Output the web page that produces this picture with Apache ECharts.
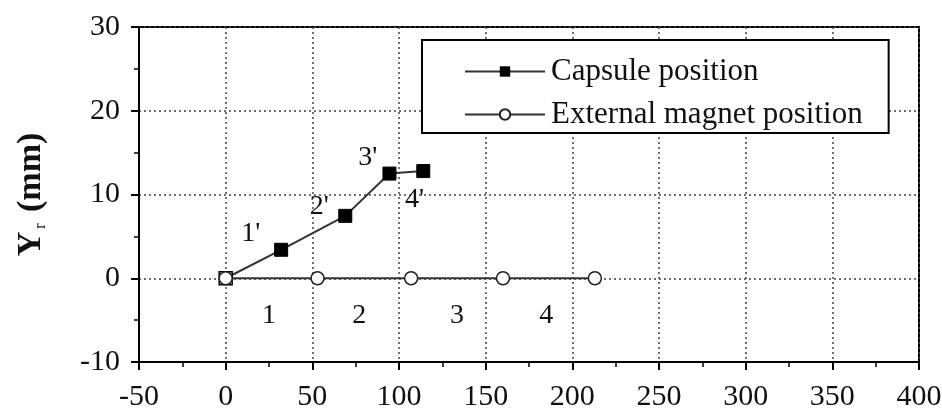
<!DOCTYPE html>
<html><head><meta charset="utf-8">
<script src="https://cdn.jsdelivr.net/npm/echarts@6/dist/echarts.min.js"></script>
<style>html,body{margin:0;padding:0;background:#fff}#c{width:942px;height:411px}</style>
</head><body><div id="c"></div>
<script>
var capsuleX = [0, 32, 69, 94.5, 114];
var capsuleY = [0, 3.4, 7.45, 12.5, 12.8];
var magnetX = [0, 53, 107, 160, 213];
var magnetY = [0, 0, 0, 0, 0];
var noteText = ["1'", "2'", "3'", "4'", "1", "2", "3", "4"];
var noteX = [14.5, 54, 82, 109, 25, 77, 133.5, 185];
var noteY = [5.3, 8.6, 14.4, 9.4, -4.5, -4.5, -4.5, -4.5];
var xTicks = [-50, 400, 50];
var yTicks = [-10, 30, 10];

var FONT = 'Liberation Serif';
var capData = capsuleX.map(function (x, i) {
  var d = { value: [x, capsuleY[i]] };
  if (i === 0) d.itemStyle = { color: '#fff', borderColor: '#000', borderWidth: 1.5 };
  return d;
});
var magData = magnetX.map(function (x, i) { return [x, magnetY[i]]; });
var noteData = noteX.map(function (x, i) { return { value: [x, noteY[i]], name: noteText[i] }; });

var chart = echarts.init(document.getElementById('c'));
chart.setOption({
  animation: false,
  backgroundColor: '#fff',
  grid: { left: 139, right: 23, top: 27, bottom: 49, show: true, borderColor: '#000', borderWidth: 2,
          outerBoundsMode: 'none', containLabel: false },
  xAxis: {
    type: 'value', min: xTicks[0], max: xTicks[1], interval: xTicks[2],
    axisLine: { show: true, onZero: false, lineStyle: { color: '#000', width: 2 } },
    axisTick: { show: true, length: 8, lineStyle: { color: '#000', width: 2 } },
    minorTick: { show: true, splitNumber: 2, length: 5, lineStyle: { color: '#000', width: 1.5 } },
    splitLine: { show: true, lineStyle: { color: '#444', type: [2, 3], width: 1.5 } },
    axisLabel: { fontFamily: FONT, fontSize: 30, color: '#111', margin: 20 }
  },
  yAxis: {
    type: 'value', min: yTicks[0], max: yTicks[1], interval: yTicks[2],
    axisLine: { show: true, onZero: false, lineStyle: { color: '#000', width: 2 } },
    axisTick: { show: true, length: 8, lineStyle: { color: '#000', width: 2 } },
    minorTick: { show: true, splitNumber: 2, length: 5, lineStyle: { color: '#000', width: 1.5 } },
    splitLine: { show: true, lineStyle: { color: '#444', type: [2, 3], width: 1.5 } },
    axisLabel: { fontFamily: FONT, fontSize: 30, color: '#111', margin: 19 },
    name: '{y|Y}{sub|r}{y| (mm)}',
    nameLocation: 'middle', nameGap: 90, nameRotate: 90,
    nameTextStyle: {
      rich: {
        y: { fontFamily: FONT, fontSize: 34, fontWeight: 'bold', color: '#111' },
        sub: { fontFamily: FONT, fontSize: 16, color: '#111', verticalAlign: 'bottom', padding: [20, 3, 0, 3] }
      }
    }
  },
  legend: {
    data: ['Capsule position', 'External magnet position'],
    orient: 'vertical', left: 422, top: 40,
    padding: [16, 26, 3, 42],
    itemWidth: 80, itemHeight: 13, itemGap: 12,
    borderColor: '#000', borderWidth: 2, backgroundColor: '#fff',
    textStyle: { fontFamily: FONT, fontSize: 31, color: '#111', padding: [0, 0, 0, 1] }
  },
  series: [
    {
      name: 'Capsule position', type: 'line', data: capData,
      symbol: 'rect', symbolSize: 13,
      lineStyle: { color: '#333', width: 2 },
      itemStyle: { color: '#000', borderColor: '#000' }
    },
    {
      name: 'External magnet position', type: 'line', data: magData,
      symbol: 'circle', symbolSize: 13,
      lineStyle: { color: '#333', width: 2 },
      itemStyle: { color: '#fff', borderColor: '#222', borderWidth: 1.5 }
    },
    {
      name: 'notes', type: 'scatter', data: noteData, symbolSize: 0, silent: true,
      itemStyle: { opacity: 1 },
      label: { show: true, position: 'inside', formatter: '{b}', fontFamily: FONT, fontSize: 28, color: '#111', opacity: 1 }
    }
  ]
});
</script></body></html>
